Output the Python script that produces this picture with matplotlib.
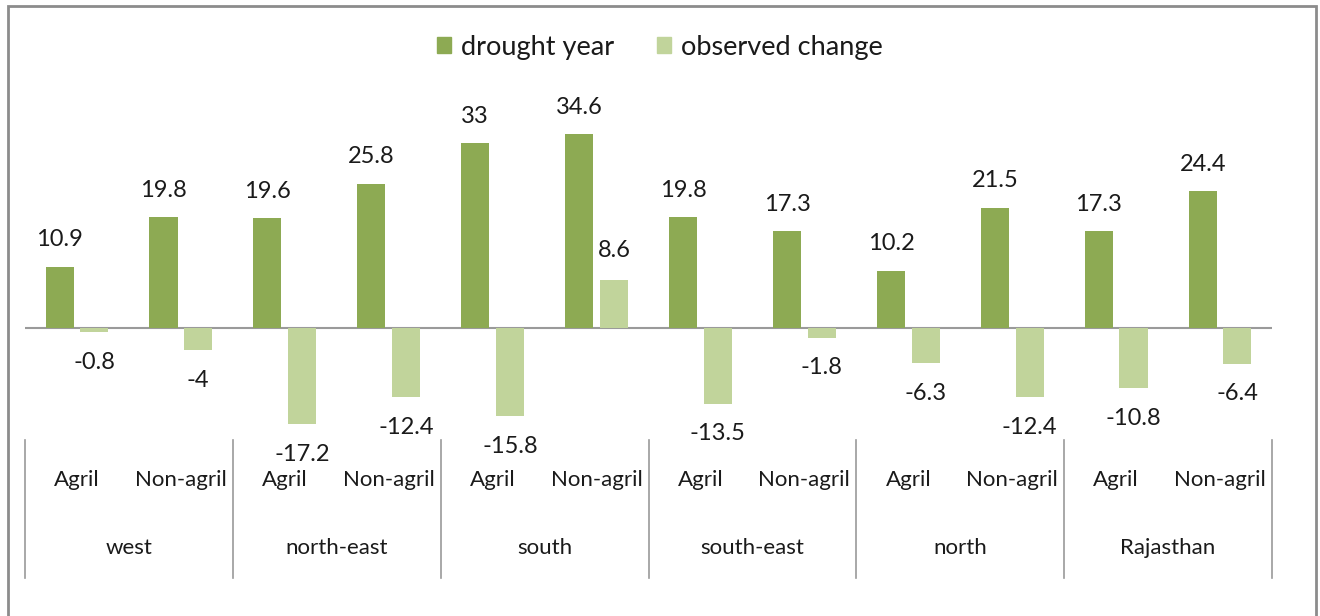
import matplotlib
matplotlib.use("Agg")
import matplotlib.pyplot as plt
from matplotlib.patches import Patch, Rectangle

plt.rcParams["font.family"] = ["Lato", "DejaVu Sans"]

# data
regions = ["west", "north-east", "south", "south-east", "north", "Rajasthan"]
sectors = ["Agril", "Non-agril"]
drought_year = [10.9, 19.8, 19.6, 25.8, 33, 34.6, 19.8, 17.3, 10.2, 21.5, 17.3, 24.4]
observed_change = [-0.8, -4, -17.2, -12.4, -15.8, 8.6, -13.5, -1.8, -6.3, -12.4, -10.8, -6.4]

dark = "#8DAA53"
light = "#C1D49B"
txt = "#1a1a1a"
grey = "#9a9a9a"

W, H = 1320, 616
fig = plt.figure(figsize=(W / 100, H / 100), dpi=100)
ax = fig.add_axes([25 / W, 1 - 440 / H, (1272 - 25) / W, (440 - 104) / H])

n = len(drought_year)
xs = [i + 0.5 for i in range(n)]
off, bw = 0.167, 0.27
ax.bar([x - off for x in xs], drought_year, width=bw, color=dark, zorder=2)
ax.bar([x + off for x in xs], observed_change, width=bw, color=light, zorder=2)

ax.set_xlim(0, n)
ax.set_ylim(-20, 40)
ax.axis("off")
ax.axhline(0, color=grey, lw=1.5, zorder=1)


def fmt(v):
    return f"{v:g}"


for x, v in zip(xs, drought_year):
    ax.annotate(fmt(v), (x - off, v), xytext=(0, 19.5), textcoords="offset points",
                ha="center", va="center", fontsize=17, color=txt)
for x, v in zip(xs, observed_change):
    dy = 21 if v >= 0 else -21.5
    ax.annotate(fmt(v), (x + off, v), xytext=(0, dy), textcoords="offset points",
                ha="center", va="center", fontsize=17, color=txt)

# multi-level category axis
trans = ax.get_xaxis_transform()
for i in range(len(regions) + 1):
    ax.plot([2 * i, 2 * i], [0, -(578 - 440) / 336], transform=trans,
            color=grey, lw=1.2, clip_on=False)
for i, x in enumerate(xs):
    ax.text(x, -(480 - 440) / 336, sectors[i % 2], transform=trans,
            ha="center", va="center", fontsize=16, color=txt)
for j, r in enumerate(regions):
    ax.text(2 * j + 1, -(548 - 440) / 336, r, transform=trans,
            ha="center", va="center", fontsize=16, color=txt)

handles = [Patch(color=dark, label="drought year"),
           Patch(color=light, label="observed change")]
fig.legend(handles=handles, loc="center", bbox_to_anchor=(0.5, 1 - 47 / H),
           ncol=2, frameon=False, fontsize=19.5, handlelength=0.52,
           handleheight=0.52, handletextpad=0.35, columnspacing=1.6,
           labelcolor=txt)

# outer chart border
fig.patches.append(Rectangle((8 / W, -0.05), (1316 - 8) / W, 1.05 - 6 / H,
                             transform=fig.transFigure, fill=False,
                             edgecolor="#8c8c8c", lw=2))

fig.savefig("out.png", dpi=100)
